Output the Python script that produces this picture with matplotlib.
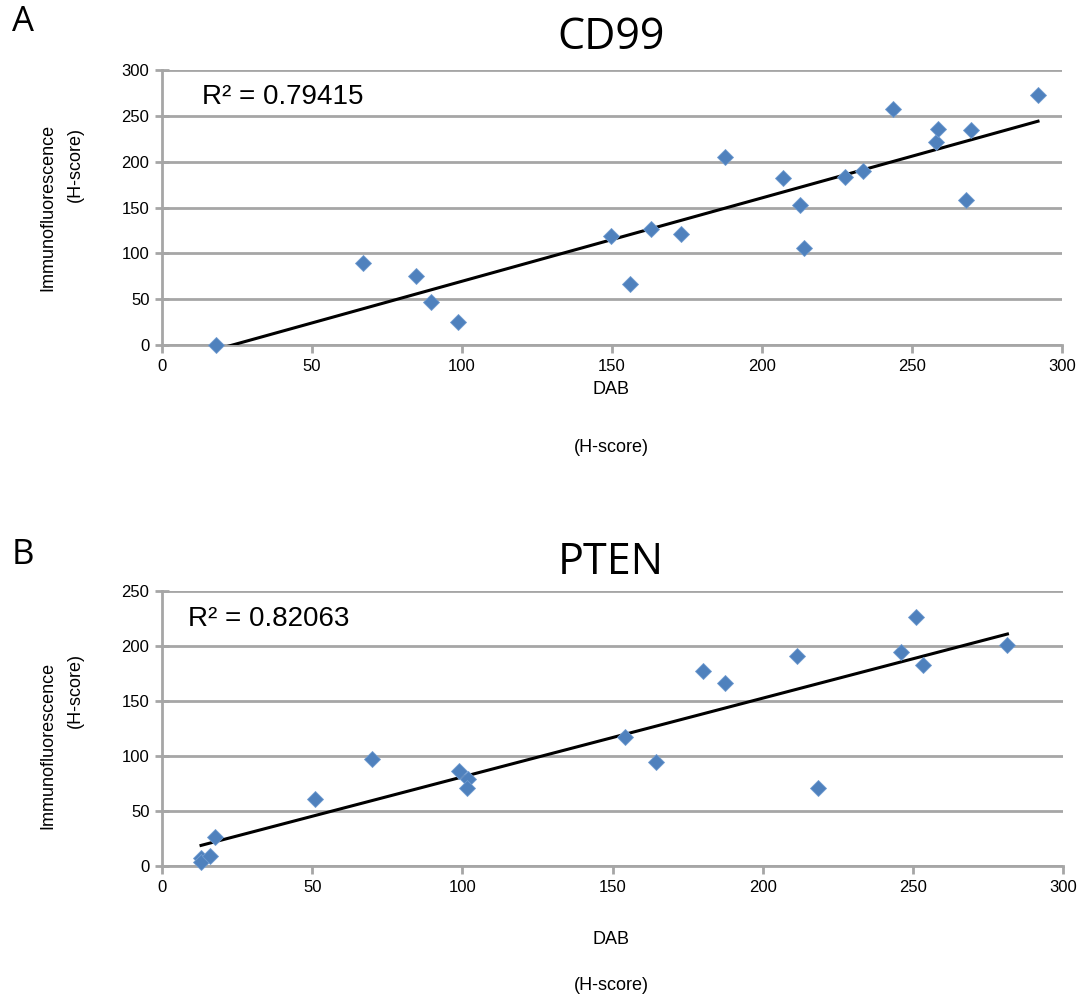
import numpy as np
import matplotlib
matplotlib.use("Agg")
import matplotlib.pyplot as plt

plt.rcParams['font.family'] = ['Liberation Sans', 'DejaVu Sans']

# CD99 H-scores
cd99_dab = [18, 67, 84.5, 89.5, 98.5, 149.5, 156, 163, 173, 187.5, 207, 212.5,
            214, 227.5, 233.5, 243.5, 258, 258.5, 268, 269.5, 292]
cd99_if = [0, 90, 75, 47, 25, 119, 66.5, 126.5, 121, 205, 182, 153,
           106, 183.5, 190, 257.5, 221, 236, 158.5, 235, 273]
cd99_r2 = "0.79415"

# PTEN H-scores
pten_dab = [13, 13, 16, 17.5, 51, 70, 99, 102, 101.5, 154, 164.5, 180, 187.5,
            211.5, 218.5, 246, 251, 253.5, 281.5]
pten_if = [7, 4, 9, 26, 61, 97, 86, 79, 70.5, 117.5, 95, 177, 166.5,
           191, 71, 194.5, 226.5, 182.5, 201]
pten_r2 = "0.82063"

x_ticks = [0, 50, 100, 150, 200, 250, 300]
cd99_y_ticks = [0, 50, 100, 150, 200, 250, 300]
pten_y_ticks = [0, 50, 100, 150, 200, 250]

W, H = 1085, 1000
fig = plt.figure(figsize=(W / 100, H / 100), dpi=100)

grid_col = '#a6a6a6'
marker_col = '#4f81bd'


def panel(rect, xs, ys, yticks, r2, r2_pos):
    ax = fig.add_axes(rect)
    ax.set_xlim(0, 300)
    ax.set_ylim(yticks[0], yticks[-1])
    ax.set_xticks(x_ticks)
    ax.set_yticks(yticks)
    for s in ['top', 'right']:
        ax.spines[s].set_visible(False)
    for s in ['left', 'bottom']:
        ax.spines[s].set_color(grid_col)
        ax.spines[s].set_linewidth(2)
    ax.yaxis.grid(True, color=grid_col, linewidth=2)
    ax.set_axisbelow(True)
    ax.tick_params(axis='both', color=grid_col, width=2, length=6,
                   labelsize=12, pad=4, direction='out')
    ax.tick_params(axis='y', direction='inout', length=10)
    xs = np.asarray(xs, float)
    ys = np.asarray(ys, float)
    k, b = np.polyfit(xs, ys, 1)
    xl = np.array([xs.min(), xs.max()])
    ax.plot(xl, k * xl + b, color='black', linewidth=2.2, zorder=3,
            clip_on=True)
    ax.plot(xs, ys, linestyle='none', marker='D', markersize=8.5,
            markerfacecolor=marker_col, markeredgecolor='#6f9bd0',
            markeredgewidth=0.6, zorder=4, clip_on=False)
    ax.text(r2_pos[0], r2_pos[1], "R\u00b2 = " + r2, transform=ax.transAxes,
            fontsize=20, va='center', ha='left')
    return ax


# axes rectangles in figure fraction
top = [162 / W, 1 - 345 / H, 900 / W, 275 / H]
bot = [162 / W, 1 - 866 / H, 901 / W, 275 / H]

panel(top, cd99_dab, cd99_if, cd99_y_ticks, cd99_r2, (0.044, 0.90))
panel(bot, pten_dab, pten_if, pten_y_ticks, pten_r2, (0.029, 0.90))

# titles and panel letters
fig.text(611 / W, 1 - 38 / H, "CD99", fontsize=31, ha='center', va='center',
         family=['Open Sans', 'DejaVu Sans'])
fig.text(611 / W, 1 - 563 / H, "PTEN", fontsize=31, ha='center', va='center',
         family=['Open Sans', 'DejaVu Sans'])
fig.text(23 / W, 1 - 22 / H, "A", fontsize=25, ha='center', va='center',
         family=['Open Sans', 'DejaVu Sans'])
fig.text(23 / W, 1 - 555 / H, "B", fontsize=25, ha='center', va='center',
         family=['Open Sans', 'DejaVu Sans'])

# axis labels
for yc, ycs, xd, xh in [(207, 165, 390, 447), (745, 690, 940, 985)]:
    fig.text(48 / W, 1 - yc / H, "Immunofluorescence", rotation=90,
             fontsize=13, ha='center', va='center')
    fig.text(75 / W, 1 - ycs / H, "(H-score)", rotation=90,
             fontsize=13, ha='center', va='center')
    fig.text(611 / W, 1 - xd / H, "DAB", fontsize=13, ha='center',
             va='center')
    fig.text(611 / W, 1 - xh / H, "(H-score)", fontsize=13, ha='center',
             va='center')

fig.savefig("out.png", dpi=100)
